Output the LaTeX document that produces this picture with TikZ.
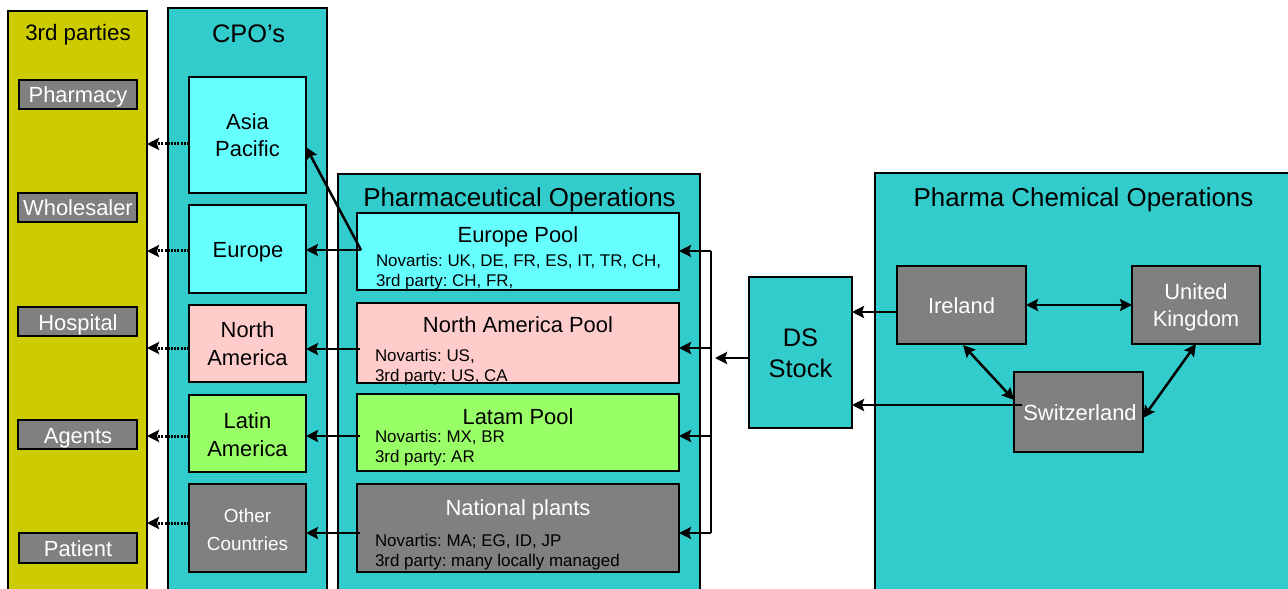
\documentclass[tikz,border=0pt]{standalone}
\usepackage{fontspec}
\setmainfont{Liberation Sans}
\usetikzlibrary{arrows.meta}
\frenchspacing
\definecolor{cteal}{HTML}{33CCCC}
\definecolor{ccyan}{HTML}{66FFFF}
\definecolor{cpink}{HTML}{FFCCCC}
\definecolor{cgreen}{HTML}{99FF66}
\definecolor{cgrey}{HTML}{808080}
\definecolor{colive}{HTML}{CCCC00}
\newcommand\myfs[1]{\fontsize{#1}{#1}\selectfont}
\begin{document}
\begin{tikzpicture}[x=1bp,y=-1bp,
  box/.style={draw=black, line width=2bp, inner sep=0pt, outer sep=0pt, anchor=north west},
  txt/.style={anchor=base, inner sep=0pt, outer sep=0pt},
  ltxt/.style={anchor=base west, inner sep=0pt, outer sep=0pt},
  arr/.style={-{Stealth[length=12bp,width=12bp,inset=2bp]}, line width=2.5bp},
  darr/.style={{Stealth[length=12bp,width=12bp,inset=2bp]}-{Stealth[length=12bp,width=12bp,inset=2bp]}, line width=2.5bp},
  dotarr/.style={-{Stealth[length=12bp,width=12bp,inset=2bp]}, line width=3bp, dash pattern=on 2bp off 1.2bp},
  big/.style={font=\myfs{26}},
  mid/.style={font=\myfs{22}},
  sml/.style={font=\myfs{17}}
]
\clip (0,0) rectangle (1288,589);
\fill[white] (0,0) rectangle (1288,589);

% columns
\node[box, fill=colive, minimum width=139bp, minimum height=600bp] (col3) at (8,10.7) {};
\node[box, fill=cteal, minimum width=159bp, minimum height=600bp] (cpo) at (168,8) {};
\node[box, fill=cteal, minimum width=362bp, minimum height=500bp] (pops) at (338,174) {};
\node[box, fill=cteal, minimum width=450bp, minimum height=500bp] (pco) at (875,173) {};

% 3rd party boxes
\node[box, fill=cgrey, minimum width=118bp, minimum height=29bp] (pharmacy) at (19,80) {};
\node[box, fill=cgrey, minimum width=119bp, minimum height=29bp] (wholesaler) at (18,193) {};
\node[box, fill=cgrey, minimum width=119bp, minimum height=29bp] (hospital) at (18,307) {};
\node[box, fill=cgrey, minimum width=119bp, minimum height=29bp] (agents) at (18,420) {};
\node[box, fill=cgrey, minimum width=118bp, minimum height=30bp] (patient) at (19,533) {};

% CPO boxes
\node[box, fill=ccyan, minimum width=117bp, minimum height=116bp] (asia) at (189,77) {};
\node[box, fill=ccyan, minimum width=117bp, minimum height=88bp] (europe) at (189,205) {};
\node[box, fill=cpink, minimum width=117bp, minimum height=77bp] (na) at (189,305) {};
\node[box, fill=cgreen, minimum width=117bp, minimum height=77bp] (latin) at (189,395) {};
\node[box, fill=cgrey, minimum width=117bp, minimum height=88bp] (other) at (189,484) {};

% pools
\node[box, fill=ccyan, minimum width=322bp, minimum height=77bp] (epool) at (357,213) {};
\node[box, fill=cpink, minimum width=322bp, minimum height=80bp] (napool) at (357,303) {};
\node[box, fill=cgreen, minimum width=322bp, minimum height=77bp] (lpool) at (357,394) {};
\node[box, fill=cgrey, minimum width=322bp, minimum height=88bp] (npool) at (357,484) {};

% DS stock and chemical sites
\node[box, fill=cteal, minimum width=103bp, minimum height=151bp] (ds) at (749,277) {};
\node[box, fill=cgrey, minimum width=129bp, minimum height=78bp] (ireland) at (897,266) {};
\node[box, fill=cgrey, minimum width=128bp, minimum height=78bp] (uk) at (1132,266) {};
\node[box, fill=cgrey, minimum width=129bp, minimum height=80bp] (switz) at (1014,372) {};

% coordinates
\coordinate (ep) at (361,250);
\coordinate (nap) at (360,349);
\coordinate (lap) at (360,436);
\coordinate (ntp) at (360,533);
\coordinate (bt) at (711,251);
\coordinate (b2) at (711,348);
\coordinate (b3) at (711,436);
\coordinate (bb) at (711,533);
\coordinate (dsend) at (715,358);
\coordinate (swp) at (1022,405);

% dotted arrows to 3rd parties
\draw[dotarr] (asia.west |- 0,144) -- (col3.east |- 0,144);
\draw[dotarr] (europe.west |- 0,251) -- (col3.east |- 0,251);
\draw[dotarr] (na.west |- 0,348) -- (col3.east |- 0,348);
\draw[dotarr] (latin.west |- 0,436) -- (col3.east |- 0,436);
\draw[dotarr] (other.west |- 0,523) -- (col3.east |- 0,523);

% pools to CPOs
\draw[arr] (ep) -- (europe.east |- ep);
\draw[arr] (ep) -- (asia.east |- 0,147);
\draw[arr] (nap) -- (na.east |- nap);
\draw[arr] (lap) -- (latin.east |- lap);
\draw[arr] (ntp) -- (other.east |- ntp);

% bracket
\draw[line width=2bp] (bt) -- (bb);
\draw[arr] (bt) -- (epool.east |- bt);
\draw[arr] (b2) -- (napool.east |- b2);
\draw[arr] (b3) -- (lpool.east |- b3);
\draw[arr] (bb) -- (npool.east |- bb);
\draw[arr] (ds.west |- dsend) -- (dsend);

% chemical
\draw[arr] (ireland.west |- 0,312) -- (ds.east |- 0,312);
\draw[arr] (swp) -- (ds.east |- swp);
\draw[darr] (ireland.east |- 0,305) -- (uk.west |- 0,305);
\draw[darr] (963,345) -- (switz.west |- 0,400);
\draw[darr] (uk.south) -- (switz.east |- 0,418);

% texts
\node[txt, font=\myfs{22.4}] (t3rd) at (78,41) {3rd parties};
\node[txt, font=\myfs{25.5}] (tcpo) at (248.5,43) {CPO’s};
\node[txt, big] (tpops) at (519.5,207) {Pharmaceutical Operations};
\node[txt, big] (tpco) at (1083.5,207) {Pharma Chemical Operations};

\node[txt, mid, text=white] (tpharmacy) at (78,103) {Pharmacy};
\node[txt, mid, text=white] (twholesaler) at (78,216) {Wholesaler};
\node[txt, mid, text=white] (thospital) at (78,331) {Hospital};
\node[txt, mid, text=white] (tagents) at (78,443) {Agents};
\node[txt, mid, text=white] (tpatient) at (78,556) {Patient};

\node[txt, mid] (tasia1) at (247.5,130) {Asia};
\node[txt, mid] (tasia2) at (247.5,157) {Pacific};
\node[txt, mid] (teurope) at (248,258) {Europe};
\node[txt, mid] (tna1) at (247.5,338) {North};
\node[txt, mid] (tna2) at (247.5,366) {America};
\node[txt, mid] (tla1) at (247.5,428) {Latin};
\node[txt, mid] (tla2) at (247.5,456) {America};
\node[txt, font=\myfs{19}, text=white] (toc1) at (247.5,522) {Other};
\node[txt, font=\myfs{19}, text=white] (toc2) at (247.5,550) {Countries};

\node[txt, mid] (tep) at (518,243) {Europe Pool};
\node[ltxt, sml] (tep1) at (376,267) {Novartis: UK, DE, FR, ES, IT, TR, CH,};
\node[ltxt, sml] (tep2) at (376,287) {3rd party: CH, FR,};
\node[txt, mid] (tnap) at (518,333) {North America Pool};
\node[ltxt, sml] (tnap1) at (375,362) {Novartis: US,};
\node[ltxt, sml] (tnap2) at (375,382) {3rd party: US, CA};
\node[txt, mid] (tlp) at (518,424) {Latam Pool};
\node[ltxt, sml] (tlp1) at (375,442) {Novartis: MX, BR};
\node[ltxt, sml] (tlp2) at (375,462) {3rd party: AR};
\node[txt, mid, text=white] (tnp) at (518,515) {National plants};
\node[ltxt, sml] (tnp1) at (375,546) {Novartis: MA; EG, ID, JP};
\node[ltxt, sml] (tnp2) at (375,566) {3rd party: many locally managed};

\node[txt, font=\myfs{25.5}] (tds1) at (800.5,347) {DS};
\node[txt, font=\myfs{25.5}] (tds2) at (800.5,378) {Stock};

\node[txt, mid, text=white] (tireland) at (961.5,314) {Ireland};
\node[txt, mid, text=white] (tuk1) at (1196,300) {United};
\node[txt, mid, text=white] (tuk2) at (1196,327) {Kingdom};
\node[txt, mid, text=white] (tswitz) at (1080,420) {Switzerland};
\end{tikzpicture}
\end{document}
